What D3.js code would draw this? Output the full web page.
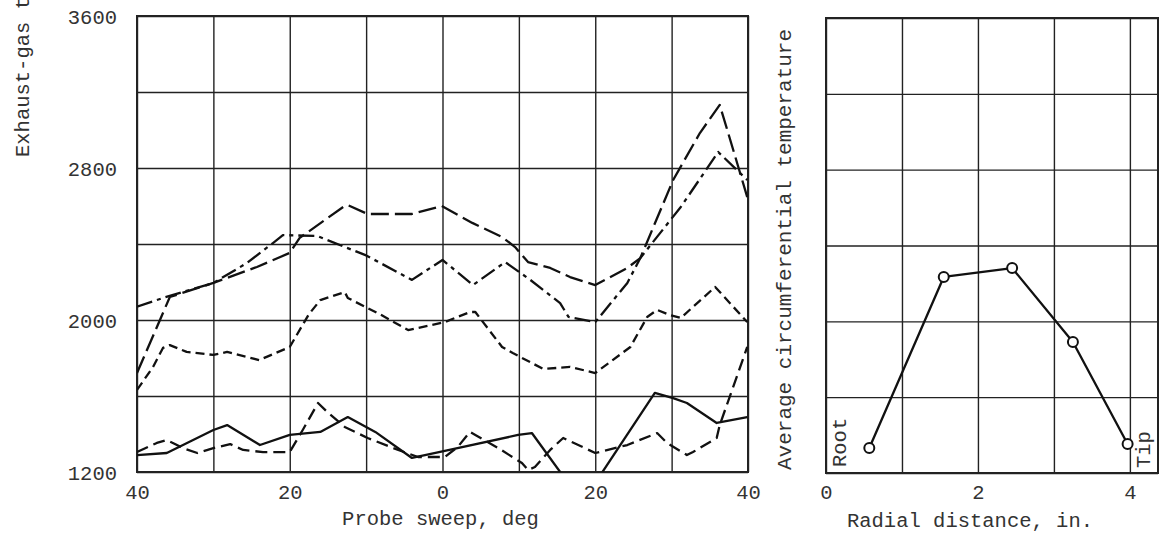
<!DOCTYPE html>
<html>
<head>
<meta charset="utf-8">
<script src="https://cdn.jsdelivr.net/npm/d3@7"></script>
<style>
  body { margin: 0; background: #fff; }
  svg text { font-family: "Liberation Mono", "DejaVu Sans Mono", monospace; fill: #333; }
  .grid line { stroke: #222; stroke-width: 1.4; }
  .grid path { display: none; }
  .series { fill: none; stroke: #111; stroke-width: 2.3; stroke-linejoin: round; }
</style>
</head>
<body>
<div id="chart"></div>
<script>
// tick labels
const sweepTicks = [-40, -20, 0, 20, 40];   // shown without sign
const tempTicks = [1200, 2000, 2800, 3600];
const radialTicks = [0, 2, 4];

// probe sweep (deg) vs exhaust-gas temperature, one array per radial station
const dashDotLine = [[-40, 2070], [-36.6, 2116], [-30, 2195], [-25.6, 2300], [-22.2, 2405], [-20.9, 2447],
  [-16.4, 2442], [-10, 2340], [-4, 2211], [0, 2316], [4, 2184], [8.2, 2305], [11.5, 2211], [15.4, 2089],
  [16.5, 2016], [20, 1989], [24.2, 2195], [25.9, 2326], [31.2, 2595], [36.1, 2884], [39.9, 2737]];
const longDashLine = [[-40, 1721], [-38.3, 1879], [-35.7, 2121], [-30, 2195], [-24.3, 2279], [-20, 2353],
  [-18.7, 2432], [-13, 2595], [-12.4, 2605], [-9.8, 2558], [-4, 2558], [-0.1, 2600], [3.9, 2511], [7.8, 2437],
  [9.5, 2384], [11.2, 2305], [14.1, 2274], [16.7, 2226], [20, 2184], [24.2, 2274], [25.9, 2326], [30.2, 2737],
  [33.7, 2984], [36.3, 3132], [37.6, 2958], [39.9, 2647]];
const shortDashLine = [[-40, 1632], [-37.9, 1753], [-36.6, 1853], [-35.7, 1868], [-33.5, 1832], [-30, 1816],
  [-28.2, 1832], [-24, 1789], [-20, 1858], [-17.5, 2030], [-16, 2105], [-12.8, 2147], [-12.4, 2116], [-8, 2026],
  [-4.5, 1947], [0.3, 1989], [3.6, 2042], [4.3, 2042], [5.8, 1963], [7.8, 1858], [9.2, 1826], [13.2, 1742],
  [16.7, 1753], [20, 1721], [24.6, 1858], [26.8, 2016], [28.1, 2053], [29.8, 2026], [31.2, 2011], [35.7, 2174],
  [39.9, 1989]];
const solidLine = [[-40, 1289], [-36.1, 1300], [-30, 1421], [-28.2, 1447], [-23.9, 1342], [-20, 1395],
  [-16, 1411], [-12.4, 1489], [-8.8, 1411], [-4, 1274], [-2.3, 1289], [0.3, 1311], [9.9, 1395], [11.7, 1405],
  [18.3, 1040], [27.8, 1616], [30.2, 1589], [32, 1563], [35.9, 1458], [39.9, 1489]];
const dashLine = [[-40, 1305], [-37.4, 1353], [-36.1, 1368], [-35.3, 1353], [-34, 1326], [-32.1, 1300],
  [-30, 1326], [-27.8, 1347], [-26.1, 1316], [-23.5, 1305], [-20, 1305], [-18.3, 1421], [-16.3, 1563],
  [-15.1, 1516], [-12.8, 1437], [-9.8, 1379], [-5.8, 1316], [-3.2, 1279], [0.3, 1279], [2, 1332], [3.6, 1411],
  [4.3, 1395], [7.3, 1326], [10.4, 1247], [11.2, 1211], [12.1, 1226], [14.1, 1316], [15.8, 1379], [16.4, 1368],
  [20, 1300], [24.2, 1342], [28.1, 1405], [29.4, 1353], [32, 1289], [32.8, 1305], [35.9, 1379], [36.3, 1447],
  [39.9, 1858]];

// average circumferential temperature across the blade
const radialDistance = [0.57, 1.55, 2.45, 3.25, 3.97];
const averageTemp = [1332, 2234, 2281, 1891, 1353];

const seriesStyles = [
  { data: dashDotLine, dash: "16,5,4,5" },
  { data: longDashLine, dash: "18,6" },
  { data: shortDashLine, dash: "9,5" },
  { data: solidLine, dash: null },
  { data: dashLine, dash: "12,6" }
];

const fontSize = 20.5;
const svg = d3.select("#chart").append("svg")
    .attr("width", 1160)
    .attr("height", 536);

// ---- left panel ----
const m = { left: 137, top: 16 };
const w = 611, h = 456;
const x = d3.scaleLinear().domain([-40, 40]).range([0, w]);
const y = d3.scaleLinear().domain([1200, 3600]).range([h, 0]);

const g = svg.append("g").attr("transform", `translate(${m.left},${m.top})`);

g.append("clipPath").attr("id", "clipL")
  .append("rect").attr("width", w).attr("height", h);

g.append("g").attr("class", "grid")
    .call(d3.axisLeft(y).tickValues(d3.range(1200, 3601, 400)).tickSize(-w).tickPadding(20)
      .tickFormat(d => tempTicks.includes(d) ? d : ""))
    .selectAll("text").style("font-size", fontSize + "px").attr("dy", "0.36em");

g.append("g").attr("class", "grid")
    .attr("transform", `translate(0,${h})`)
    .call(d3.axisBottom(x).tickValues(d3.range(-40, 41, 10)).tickSize(-h).tickPadding(12)
      .tickFormat(d => sweepTicks.includes(d) ? Math.abs(d) : ""))
    .selectAll("text").style("font-size", fontSize + "px");

g.append("rect").attr("width", w).attr("height", h)
    .attr("fill", "none").attr("stroke", "#222").attr("stroke-width", 2);

const line = d3.line().x(d => x(d[0])).y(d => y(d[1]));

g.append("g").attr("clip-path", "url(#clipL)")
  .selectAll("path")
  .data(seriesStyles)
  .join("path")
    .attr("class", "series")
    .attr("d", d => line(d.data))
    .attr("stroke-dasharray", d => d.dash);

g.append("text")
    .attr("x", w / 2 - 2).attr("y", 525 - m.top)
    .attr("text-anchor", "middle")
    .style("font-size", fontSize + "px")
    .text("Probe sweep, deg");

svg.append("text")
    .attr("transform", "translate(29,157) rotate(-90)")
    .style("font-size", fontSize + "px")
    .text("Exhaust-gas temperature, °R");

// ---- right panel ----
const mr = { left: 826, top: 18 };
const wr = 332, hr = 455;
const xr = d3.scaleLinear().domain([0, 4.37]).range([0, wr]);
const yr = d3.scaleLinear().domain([1200, 3600]).range([hr, 0]);

const gr = svg.append("g").attr("transform", `translate(${mr.left},${mr.top})`);

gr.append("g").attr("class", "grid")
    .call(d3.axisLeft(yr).tickValues(d3.range(1200, 3601, 400)).tickSize(-wr).tickFormat(""));

gr.append("g").attr("class", "grid")
    .attr("transform", `translate(0,${hr})`)
    .call(d3.axisBottom(xr).tickValues(d3.range(0, 5, 1)).tickSize(-hr).tickPadding(11)
      .tickFormat(d => radialTicks.includes(d) ? d : ""))
    .selectAll("text").style("font-size", fontSize + "px");

gr.append("rect").attr("width", wr).attr("height", hr)
    .attr("fill", "none").attr("stroke", "#222").attr("stroke-width", 2);

const radial = radialDistance.map((r, i) => [r, averageTemp[i]]);

gr.append("path")
    .attr("class", "series")
    .attr("d", d3.line().x(d => xr(d[0])).y(d => yr(d[1]))(radial));

gr.selectAll("circle")
  .data(radial)
  .join("circle")
    .attr("cx", d => xr(d[0]))
    .attr("cy", d => yr(d[1]))
    .attr("r", 5)
    .attr("fill", "#fff")
    .attr("stroke", "#111")
    .attr("stroke-width", 2);

gr.append("text")
    .attr("x", 144).attr("y", 527 - mr.top)
    .attr("text-anchor", "middle")
    .style("font-size", fontSize + "px")
    .text("Radial distance, in.");

svg.append("text")
    .attr("transform", "translate(791,470) rotate(-90)")
    .style("font-size", "21px")
    .text("Average circumferential temperature");

svg.append("text")
    .attr("transform", "translate(846,467) rotate(-90)")
    .style("font-size", fontSize + "px")
    .text("Root");

svg.append("text")
    .attr("transform", "translate(1150,468) rotate(-90)")
    .style("font-size", fontSize + "px")
    .text("Tip");
</script>
</body>
</html>
